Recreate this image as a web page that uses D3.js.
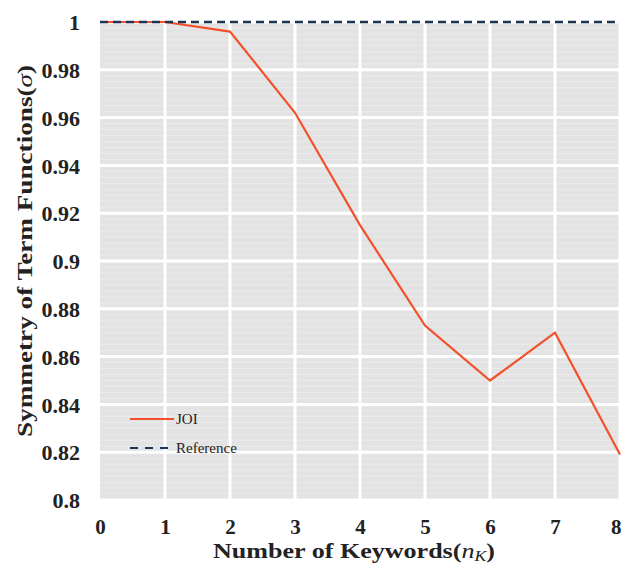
<!DOCTYPE html>
<html>
<head>
<meta charset="utf-8">
<script src="https://cdn.jsdelivr.net/npm/d3@7"></script>
<style>
  body { margin: 0; background: #fff; }
  svg { display: block; }
  .tick text { font-family: "Liberation Serif", "Times New Roman", serif; font-weight: bold; }
</style>
</head>
<body>
<div id="chart"></div>
<script>
// data
var keywords = [0, 1, 2, 3, 4, 5, 6, 7, 8];
var joiValues = [1, 1, 0.996, 0.962, 0.915, 0.873, 0.85, 0.87, 0.819];
var referenceValue = 1;
var yTicks = [0.8, 0.82, 0.84, 0.86, 0.88, 0.9, 0.92, 0.94, 0.96, 0.98, 1];
var xTicks = [0, 1, 2, 3, 4, 5, 6, 7, 8];

var width = 621,
    height = 563,
    margin = { top: 22, right: 1, bottom: 63, left: 100 };

var svg = d3.select("#chart").append("svg")
    .attr("width", width)
    .attr("height", height);

var x = d3.scaleLinear()
    .domain([0, 8])
    .range([margin.left, width - margin.right]);

var y = d3.scaleLinear()
    .domain([0.8, 1])
    .range([height - margin.bottom, margin.top]);

// plot background
svg.append("rect")
    .attr("x", x(0))
    .attr("y", y(1))
    .attr("width", x(8) - x(0))
    .attr("height", y(0.8) - y(1))
    .attr("fill", "#e3e3e3");

// faint minor lines
var minor = d3.range(0, 81).map(function (i) { return 0.8 + i * 0.0025; });
svg.append("g").selectAll("line")
    .data(minor)
    .enter().append("line")
    .attr("x1", x(0))
    .attr("x2", x(8))
    .attr("y1", function (d) { return y(d); })
    .attr("y2", function (d) { return y(d); })
    .attr("stroke", "#ebebeb")
    .attr("stroke-width", 1);

// major grid
svg.append("g").selectAll("line")
    .data(yTicks)
    .enter().append("line")
    .attr("x1", x(0))
    .attr("x2", x(8))
    .attr("y1", function (d) { return y(d); })
    .attr("y2", function (d) { return y(d); })
    .attr("stroke", "#ffffff")
    .attr("stroke-width", 3);

svg.append("g").selectAll("line")
    .data(xTicks.slice(1))
    .enter().append("line")
    .attr("x1", function (d) { return x(d); })
    .attr("x2", function (d) { return x(d); })
    .attr("y1", y(0.8))
    .attr("y2", y(1))
    .attr("stroke", "#ffffff")
    .attr("stroke-width", 3);

// axes (labels only)
var yAxis = svg.append("g")
    .attr("transform", "translate(" + (margin.left - 20) + ",0)")
    .call(d3.axisLeft(y).tickValues(yTicks).tickSize(0).tickPadding(0)
        .tickFormat(function (d) { return d3.format("")(+d.toFixed(2)); }));
yAxis.select(".domain").remove();
yAxis.selectAll("text").attr("font-size", 22).attr("fill", "#222").attr("dy", "0.35em");

var xAxis = svg.append("g")
    .attr("transform", "translate(0," + (y(0.8) + 19) + ")")
    .call(d3.axisBottom(x).tickValues(xTicks).tickSize(0).tickPadding(0));
xAxis.select(".domain").remove();
xAxis.selectAll("text").attr("font-size", 21).attr("fill", "#222").attr("dy", "0.71em");
xAxis.selectAll(".tick").filter(function (d) { return d === 8; })
    .select("text").attr("text-anchor", "end").attr("dx", 1);

// series
var line = d3.line()
    .x(function (d, i) { return x(keywords[i]); })
    .y(function (d) { return y(d); });

svg.append("path")
    .datum(joiValues)
    .attr("d", line)
    .attr("fill", "none")
    .attr("stroke", "#f4502c")
    .attr("stroke-width", 2.2);

svg.append("line")
    .attr("x1", x(0))
    .attr("x2", x(8))
    .attr("y1", y(referenceValue))
    .attr("y2", y(referenceValue))
    .attr("stroke", "#1c3550")
    .attr("stroke-width", 2.6)
    .attr("stroke-dasharray", "8,5");

// legend
var legend = svg.append("g").attr("transform", "translate(130,419)");
legend.append("line")
    .attr("x1", 0).attr("x2", 44).attr("y1", 0).attr("y2", 0)
    .attr("stroke", "#f4502c").attr("stroke-width", 2);
legend.append("text")
    .attr("x", 46).attr("y", 5)
    .attr("font-family", "Liberation Serif, serif")
    .attr("font-size", 15).attr("fill", "#222")
    .text("JOI");
legend.append("line")
    .attr("x1", 0).attr("x2", 44).attr("y1", 29).attr("y2", 29)
    .attr("stroke", "#1c3550").attr("stroke-width", 2)
    .attr("stroke-dasharray", "8,7");
legend.append("text")
    .attr("x", 46).attr("y", 34)
    .attr("font-family", "Liberation Serif, serif")
    .attr("font-size", 15).attr("fill", "#222")
    .text("Reference");

// axis titles
var xt = svg.append("text")
    .attr("x", 213)
    .attr("y", 558)
    .attr("textLength", 282)
    .attr("lengthAdjust", "spacingAndGlyphs")
    .attr("font-family", "Liberation Serif, serif")
    .attr("font-weight", "bold")
    .attr("font-size", 22)
    .attr("fill", "#222");
xt.append("tspan").text("Number of Keywords(");
xt.append("tspan").attr("font-style", "italic").attr("font-weight", "normal").text("n");
xt.append("tspan").attr("font-style", "italic").attr("font-weight", "normal")
    .attr("font-size", 15).attr("dy", 3).text("K");
xt.append("tspan").attr("dy", -3).text(")");

var yt = svg.append("text")
    .attr("transform", "translate(32,437) rotate(-90)")
    .attr("textLength", 372)
    .attr("lengthAdjust", "spacingAndGlyphs")
    .attr("font-family", "Liberation Serif, serif")
    .attr("font-weight", "bold")
    .attr("font-size", 22)
    .attr("fill", "#222");
yt.append("tspan").text("Symmetry of Term Functions(");
yt.append("tspan").attr("font-style", "italic").attr("font-weight", "normal").text("σ");
yt.append("tspan").text(")");
</script>
</body>
</html>
